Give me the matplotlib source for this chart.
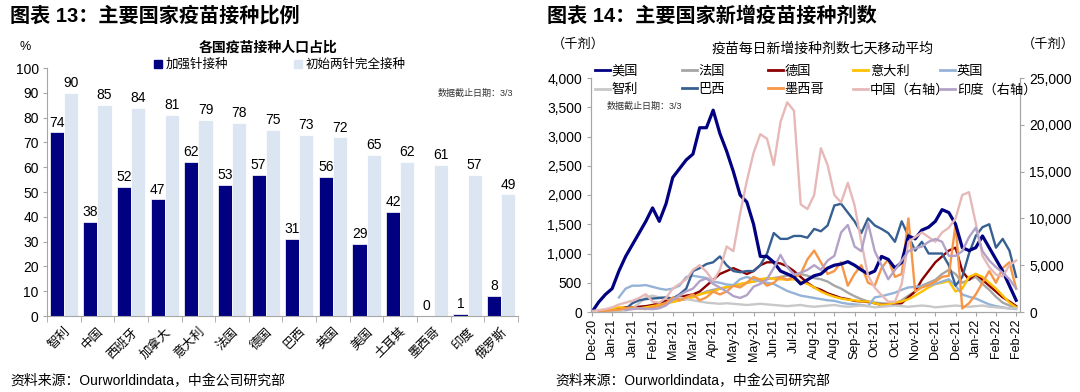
import matplotlib
matplotlib.use('Agg')
import matplotlib.pyplot as plt
import numpy as np
import pandas as pd
import matplotlib.dates as mdates
from matplotlib.lines import Line2D
from matplotlib.patches import Patch
from matplotlib.ticker import StrMethodFormatter, MultipleLocator, FixedLocator

plt.rcParams['font.family'] = ['Liberation Sans', 'Noto Sans CJK SC']
nan = np.nan

# ---------------- left chart data ----------------
countries = ['智利', '中国', '西班牙', '加拿大', '意大利', '法国', '德国', '巴西',
             '英国', '美国', '土耳其', '墨西哥', '印度', '俄罗斯']
booster = [74, 38, 52, 47, 62, 53, 57, 31, 56, 29, 42, 0, 1, 8]
full_dose = [90, 85, 84, 81, 79, 78, 75, 73, 72, 65, 62, 61, 57, 49]

# ---------------- right chart data (weekly, thousand doses) ----------------
start_date = '2020-12-14'
us = [0, 170, 300, 400, 700, 950, 1150, 1350, 1550, 1780,
      1550, 1850, 2300, 2450, 2600, 2700, 3150, 3150, 3450, 3050,
      2750, 2400, 2000, 1880, 1500, 950, 950, 850, 700, 650,
      600, 480, 550, 620, 650, 750, 800, 820, 860, 800,
      720, 650, 700, 950, 900, 750, 850, 1300, 1250, 1400,
      1450, 1550, 1750, 1700, 1500, 1100, 1050, 1100, 1300, 1100,
      900, 700, 450, 200]
france = [nan, nan, nan, 5, 20, 50, 70, 80, 90, 100,
          130, 150, 180, 200, 220, 280, 300, 350, 380, 400,
          420, 450, 470, 500, 520, 540, 560, 580, 600, 620,
          640, 650, 620, 580, 560, 520, 450, 400, 330, 270,
          220, 180, 160, 150, 140, 150, 200, 280, 350, 450,
          500, 550, 650, 720, 650, 500, 550, 600, 480, 380,
          260, 160, 110, 80]
germany = [nan, nan, 10, 40, 60, 80, 80, 90, 100, 120,
           150, 200, 220, 250, 280, 300, 350, 450, 550, 650,
           700, 750, 700, 650, 700, 800, 850, 850, 830, 780,
           700, 600, 500, 420, 380, 320, 280, 240, 220, 190,
           180, 170, 150, 120, 130, 140, 150, 250, 350, 550,
           700, 850, 950, 1050, 1100, 700, 550, 650, 550, 450,
           350, 250, 180, 100]
italy = [nan, nan, 5, 60, 80, 70, 60, 60, 80, 100,
         120, 150, 170, 200, 230, 250, 300, 330, 350, 400,
         430, 450, 480, 500, 520, 560, 580, 570, 560, 550,
         560, 520, 480, 420, 350, 300, 260, 230, 210, 200,
         180, 180, 150, 120, 130, 160, 180, 220, 280, 350,
         420, 480, 500, 530, 350, 400, 600, 650, 600, 500,
         400, 280, 160, 80]
uk = [nan, nan, nan, nan, 250, 400, 450, 450, 460, 430,
      400, 380, 400, 450, 600, 620, 600, 580, 520, 500,
      470, 460, 560, 600, 560, 520, 500, 480, 420, 360,
      320, 280, 260, 240, 220, 200, 190, 160, 140, 130,
      120, 100, 250, 270, 300, 330, 380, 420, 430, 440,
      450, 480, 520, 560, 450, 300, 260, 230, 180, 130,
      100, 80, 60, 50]
chile = [nan, 5, 10, 10, 20, 30, 60, 150, 250, 280,
         250, 230, 220, 250, 220, 200, 180, 160, 150, 140,
         150, 140, 130, 120, 130, 140, 130, 120, 110, 100,
         110, 120, 100, 90, 100, 110, 120, 100, 90, 100,
         110, 100, 80, 90, 100, 110, 100, 90, 100, 110,
         100, 80, 90, 100, 110, 100, 90, 100, 110, 90,
         80, 70, 60, 60]
brazil = [nan, nan, nan, nan, nan, 50, 150, 200, 220, 230,
          240, 250, 230, 300, 400, 700, 750, 820, 850, 950,
          800, 700, 680, 700, 700, 800, 1000, 1350, 1250, 1250,
          1300, 1300, 1270, 1420, 1380, 1480, 1820, 1850, 1700, 1550,
          1350, 1600, 1480, 1420, 1350, 1200, 1550, 1300, 1050, 1200,
          1000, 1000, 1000, 800, 450, 600, 1000, 1300, 1450, 1500,
          1100, 1250, 1050, 600]
mexico = [nan, 10, 20, 30, 40, 60, 80, 60, 50, 80,
          100, 150, 250, 200, 250, 300, 200, 250, 350, 300,
          350, 450, 420, 500, 600, 550, 450, 500, 600, 550,
          600, 650, 900, 1050, 850, 650, 700, 850, 450, 650,
          800, 500, 450, 750, 900, 600, 650, 1600, 350, 420,
          460, 520, 600, 620, 1500, 60, 150, 300, 500, 700,
          500, 750, 850, 400]
china = [100, 200, 300, 500, 800, 1000, 1200, 1500, 1900, 1100,
         1000, 1500, 2500, 3000, 3500, 4500, 5000, 4300, 3300, 4500,
         7000, 6500, 10500, 14000, 17000, 19000, 18500, 15700, 20300, 22400,
         21500, 11500, 11000, 12500, 17500, 15700, 12500, 11700, 13800, 11400,
         7500, 3900, 2600, 1800, 1100, 1100, 3000, 7500, 8000, 8500,
         8000, 7500, 8500, 9000, 10000, 12500, 12800, 9500, 6000, 4800,
         4000, 3800, 5000, 5500]
india = [nan, nan, nan, nan, nan, 200, 300, 400, 350, 300,
         400, 700, 1300, 1800, 2200, 2500, 3300, 3600, 3000, 2600,
         2200, 1700, 1500, 1800, 2700, 3000, 3500, 4700, 6100, 4800,
         4000, 4200, 4500, 5000, 4500, 5500, 6000, 8500, 9300, 7000,
         6500, 9500, 6500, 5000, 3500, 4500, 5500, 6500, 6800, 7000,
         7500, 7800, 7500, 6000, 6000, 6500, 8000, 9000, 6500, 5500,
         4800, 4200, 3500, 2500]

W, H = 1080, 392
def fx(p):
    return p / W
def fy(p):
    return 1 - p / H

fig = plt.figure(figsize=(W / 100, H / 100), dpi=100)
fig.patch.set_facecolor('white')

GRAY = '#a6a6a6'
NAVY = '#000080'
LIGHT = '#dce6f2'

# ================= left chart =================
ax1 = fig.add_axes([fx(47), fy(316), (518 - 47) / W, (316 - 68) / H])
x = np.arange(len(countries))
bw = 0.42
b1 = ax1.bar(x - bw / 2, booster, bw, color=NAVY, edgecolor='white', linewidth=0.5)
b2 = ax1.bar(x + bw / 2, full_dose, bw, color=LIGHT, edgecolor='white', linewidth=0.5)
ax1.bar_label(b1, labels=[str(v) for v in booster], padding=2, fontsize=10)
ax1.bar_label(b2, labels=[str(v) for v in full_dose], padding=2, fontsize=10)
ax1.set_ylim(0, 100)
ax1.set_xlim(-0.5, len(countries) - 0.5)
ax1.yaxis.set_major_locator(MultipleLocator(10))
ax1.set_xticks(x)
ax1.set_xticklabels(countries, rotation=45, ha='right', rotation_mode='anchor', fontsize=9)
ax1.xaxis.set_minor_locator(FixedLocator(np.arange(-0.5, len(countries), 1.0)))
ax1.tick_params(axis='x', which='major', length=0, pad=7)
ax1.tick_params(axis='x', which='minor', length=4, color=GRAY)
ax1.tick_params(axis='y', length=3, color=GRAY, labelsize=10, pad=3)
for s in ['top', 'right']:
    ax1.spines[s].set_visible(False)
for s in ['left', 'bottom']:
    ax1.spines[s].set_color(GRAY)

fig.text(fx(10), fy(16), '图表 13：主要国家疫苗接种比例', fontsize=14.5, fontweight='bold', va='center', ha='left')
fig.text(fx(19), fy(47), '%', fontsize=9, va='center', ha='left')
fig.text(fx(268), fy(48), '各国疫苗接种人口占比', fontsize=10, fontweight='bold', va='center', ha='center')
fig.text(fx(438), fy(93), '数据截止日期：3/3', fontsize=6.5, va='center', ha='left', color='#333333')

fig.legend(handles=[Patch(color=NAVY, label='加强针接种')], loc='center left',
           bbox_to_anchor=(fx(148), fy(65)), frameon=False, fontsize=9,
           handlelength=0.6, handleheight=0.6, handletextpad=0.3, borderpad=0)
fig.legend(handles=[Patch(color=LIGHT, label='初始两针完全接种')], loc='center left',
           bbox_to_anchor=(fx(288), fy(65)), frameon=False, fontsize=9,
           handlelength=0.6, handleheight=0.6, handletextpad=0.3, borderpad=0)

fig.text(fx(10), fy(381), '资料来源：Ourworldindata，中金公司研究部', fontsize=10, va='center', ha='left')

# ================= right chart =================
dates = pd.date_range(start_date, periods=len(us), freq='7D')
ax2 = fig.add_axes([fx(591), fy(312), (1020 - 591) / W, (312 - 78) / H])
ax3 = ax2.twinx()

left_series = [('美国', us, NAVY, 2.3),
               ('法国', france, '#a6a6a6', 1.7),
               ('德国', germany, '#8b0000', 1.7),
               ('意大利', italy, '#ffc000', 1.7),
               ('英国', uk, '#95b3d7', 1.7),
               ('智利', chile, '#c8c8c8', 1.7),
               ('巴西', brazil, '#376092', 1.7),
               ('墨西哥', mexico, '#f79646', 1.7)]
right_series = [('中国（右轴）', china, '#e6b9b8', 1.7),
                ('印度（右轴）', india, '#b3a2c7', 1.7)]

handles = {}
for name, vals, col, lw in left_series[1:] + left_series[:1]:
    ln, = ax2.plot(dates, vals, color=col, lw=lw, solid_joinstyle='round')
    handles[name] = ln
for name, vals, col, lw in right_series:
    ln, = ax3.plot(dates, vals, color=col, lw=lw, solid_joinstyle='round')
    handles[name] = ln

ax2.set_ylim(0, 4000)
ax2.yaxis.set_major_locator(MultipleLocator(500))
ax2.yaxis.set_major_formatter(StrMethodFormatter('{x:,.0f}'))
ax3.set_ylim(0, 25000)
ax3.yaxis.set_major_locator(MultipleLocator(5000))
ax3.yaxis.set_major_formatter(StrMethodFormatter('{x:,.0f}'))
ax2.set_xlim(pd.Timestamp('2020-12-13'), pd.Timestamp('2022-03-04'))
ax2.set_xticks(pd.date_range(start_date, '2022-02-28', freq='21D'))
ax2.xaxis.set_major_formatter(mdates.DateFormatter('%b-%y'))
ax2.tick_params(axis='x', rotation=90, labelsize=9, length=3, color=GRAY, pad=2)
ax2.tick_params(axis='y', labelsize=10, length=3, color=GRAY)
ax3.tick_params(axis='y', labelsize=10, length=3, color=GRAY)
for a in (ax2, ax3):
    a.spines['top'].set_visible(False)
    for s in ['left', 'right', 'bottom']:
        a.spines[s].set_color(GRAY)

fig.text(fx(547), fy(16), '图表 14：主要国家新增疫苗接种剂数', fontsize=14.5, fontweight='bold', va='center', ha='left')
fig.text(fx(823), fy(49), '疫苗每日新增接种剂数七天移动平均', fontsize=10, va='center', ha='center')
fig.text(fx(552), fy(44), '（千剂）', fontsize=9.5, va='center', ha='left')
fig.text(fx(1022), fy(44), '（千剂）', fontsize=9.5, va='center', ha='left')
fig.text(fx(607), fy(106), '数据截止日期：3/3', fontsize=6.5, va='center', ha='left', color='#333333')

order_row1 = ['美国', '法国', '德国', '意大利', '英国']
order_row2 = ['智利', '巴西', '墨西哥', '中国（右轴）', '印度（右轴）']
col_x = [588, 675, 761, 846, 933]
for cx, n1, n2 in zip(col_x, order_row1, order_row2):
    h1 = Line2D([], [], color=handles[n1].get_color(), lw=2)
    h2 = Line2D([], [], color=handles[n2].get_color(), lw=2)
    fig.legend(handles=[h1, h2], labels=[n1, n2], loc='upper left',
               bbox_to_anchor=(fx(cx), fy(59)), frameon=False, fontsize=9.5,
               handlelength=1.2, handletextpad=0.1, borderpad=0, labelspacing=0.45)

fig.text(fx(555), fy(381), '资料来源：Ourworldindata，中金公司研究部', fontsize=10, va='center', ha='left')

fig.savefig('out.png', dpi=100, facecolor='white')
